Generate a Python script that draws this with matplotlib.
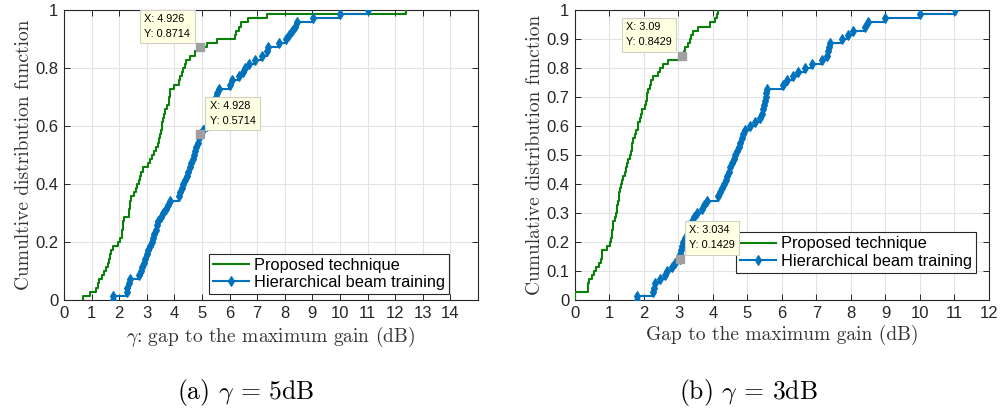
import matplotlib
matplotlib.use('Agg')
import matplotlib.pyplot as plt
import numpy as np
from matplotlib.ticker import FormatStrFormatter

plt.rcParams['mathtext.fontset'] = 'cm'
plt.rcParams['axes.unicode_minus'] = False

# sorted gaps (dB), 70 channel realisations per curve
prop_5db = [0.68, 0.94, 1.16, 1.22, 1.28, 1.38, 1.46, 1.52, 1.58, 1.64,
            1.68, 1.72, 1.76, 1.97, 2.04, 2.10, 2.12, 2.13, 2.15, 2.16,
            2.34, 2.37, 2.39, 2.41, 2.43, 2.55, 2.60, 2.66, 2.71, 2.76,
            2.80, 2.85, 3.05, 3.12, 3.18, 3.25, 3.32, 3.39, 3.45, 3.49,
            3.53, 3.55, 3.57, 3.59, 3.61, 3.67, 3.73, 3.79, 3.81, 3.83,
            3.85, 3.97, 4.15, 4.22, 4.28, 4.33, 4.38, 4.43, 4.57, 4.75,
            4.926, 5.17, 5.53, 6.19, 6.25, 6.35, 6.43, 6.67, 7.34, 12.4]
hier_5db = [1.79, 2.27, 2.29, 2.35, 2.39, 2.72, 2.78, 2.84, 2.90, 2.95,
            3.00, 3.06, 3.12, 3.18, 3.24, 3.28, 3.33, 3.37, 3.42, 3.52,
            3.60, 3.68, 3.76, 3.84, 4.16, 4.20, 4.26, 4.32, 4.38, 4.44,
            4.50, 4.56, 4.61, 4.66, 4.70, 4.75, 4.79, 4.84, 4.88, 4.928,
            5.05, 5.17, 5.22, 5.27, 5.32, 5.36, 5.39, 5.43, 5.50, 5.55,
            5.60, 6.03, 6.09, 6.33, 6.50, 6.57, 6.69, 6.93, 7.16, 7.34,
            7.40, 7.79, 8.03, 8.15, 8.27, 8.37, 8.43, 9.03, 10.0, 11.03]
prop_3db = [0.0, 0.0, 0.37, 0.39, 0.42, 0.48, 0.54, 0.60, 0.70, 0.74,
            0.77, 0.79, 0.92, 1.01, 1.04, 1.06, 1.08, 1.10, 1.11, 1.16,
            1.19, 1.21, 1.23, 1.25, 1.27, 1.29, 1.31, 1.33, 1.36, 1.40,
            1.44, 1.48, 1.51, 1.55, 1.59, 1.62, 1.64, 1.66, 1.69, 1.74,
            1.78, 1.82, 1.84, 1.88, 1.91, 1.93, 2.03, 2.06, 2.08, 2.10,
            2.13, 2.17, 2.21, 2.27, 2.42, 2.45, 2.56, 2.70, 3.09, 3.15,
            3.20, 3.29, 3.33, 3.36, 3.43, 3.57, 3.91, 4.06, 4.12, 4.15]
hier_3db = [1.79, 2.27, 2.29, 2.32, 2.47, 2.62, 2.66, 2.80, 2.90, 3.034,
            3.05, 3.07, 3.09, 3.12, 3.19, 3.28, 3.33, 3.36, 3.38, 3.45,
            3.53, 3.67, 3.75, 3.82, 4.16, 4.20, 4.25, 4.31, 4.38, 4.42,
            4.45, 4.50, 4.55, 4.60, 4.65, 4.70, 4.74, 4.79, 4.84, 4.88,
            4.93, 5.07, 5.22, 5.36, 5.42, 5.46, 5.49, 5.51, 5.53, 5.55,
            5.56, 6.04, 6.15, 6.33, 6.47, 6.67, 6.86, 7.15, 7.30, 7.34,
            7.37, 7.39, 7.73, 7.92, 8.06, 8.40, 8.50, 8.99, 10.0, 11.01]

# data tips (x, y) shown on each panel
tips_5db = [(4.926, 0.8714), (4.928, 0.5714)]
tips_3db = [(3.09, 0.8429), (3.034, 0.1429)]

green = '#0a800a'
blue = '#0072bd'
sans = 'Liberation Sans'
serif = 'cmr10'


def ecdf(v):
    v = np.sort(np.asarray(v, dtype=float))
    n = len(v)
    x = np.concatenate([[v[0]], v])
    f = np.arange(n + 1) / n
    return x, f


def datatip(ax, x, y, side):
    ax.plot(x, y, 's', color='#a0a0a0', markersize=5.5, zorder=6, clip_on=False)
    txt = 'X: %g\nY: %g' % (x, y)
    if side == 'left':
        off, ha = (-7, 6), 'right'
    else:
        off, ha = (7, 6), 'left'
    ax.annotate(txt, (x, y), xytext=off, textcoords='offset points',
                ha=ha, va='bottom', multialignment='left', fontsize=7.8, family=sans,
                linespacing=1.6, zorder=7, annotation_clip=False,
                bbox=dict(boxstyle='square,pad=0.4', fc='#ffffe1',
                          ec='#d0d0c8', lw=0.8))


def panel(ax, prop, hier, xmax, xticks, yticks, ylabel, xlabel, tips, sides, leg_anchor):
    x, f = ecdf(prop)
    ax.step(x, f, where='post', color=green, lw=1.5, label='Proposed technique', zorder=3)
    x, f = ecdf(hier)
    ax.step(x, f, where='post', color=blue, lw=1.5, marker='d', markersize=5.5,
            markeredgewidth=0.8, label='Hierarchical beam training', zorder=4)
    ax.set_xlim(0, xmax)
    ax.set_ylim(0, 1)
    ax.set_xticks(xticks)
    ax.set_yticks(yticks)
    ax.yaxis.set_major_formatter(FormatStrFormatter('%g'))
    ax.grid(True, color='#e3e3e3', lw=0.8)
    ax.set_axisbelow(True)
    ax.tick_params(direction='in', top=True, right=True, length=4, width=0.7,
                   labelsize=12, pad=4, colors='#262626')
    for lab in ax.get_xticklabels() + ax.get_yticklabels():
        lab.set_family(sans)
    for s in ax.spines.values():
        s.set_color('#262626')
        s.set_linewidth(0.8)
    ax.set_ylabel(ylabel, family=serif, fontsize=14, labelpad=2, color='#333333')
    ax.set_xlabel(xlabel, family=serif, fontsize=14, labelpad=3, color='#333333')
    for (tx, ty), sd in zip(tips, sides):
        datatip(ax, tx, ty, sd)
    leg = ax.legend(loc='lower right', bbox_to_anchor=leg_anchor, prop={'family': sans, 'size': 11.8},
                    frameon=True, fancybox=False, framealpha=1, edgecolor='#262626',
                    handlelength=2.2, handletextpad=0.3, borderpad=0.25, labelspacing=0.15,
                    borderaxespad=0)
    leg.get_frame().set_linewidth(0.8)


fig = plt.figure(figsize=(10.01, 4.08), dpi=100)
ax1 = fig.add_axes([0.0639, 0.2647, 0.4136, 0.7108])
ax2 = fig.add_axes([0.5744, 0.2647, 0.4136, 0.7108])

panel(ax1, prop_5db, hier_5db, 15, np.arange(0, 15), np.arange(0, 1.01, 0.2),
      'Cumultive distribution function', r'$\gamma$: gap to the maximum gain (dB)',
      tips_5db, ['left', 'right'], (0.93, 0.02))
panel(ax2, prop_3db, hier_3db, 12, np.arange(0, 13), np.arange(0, 1.01, 0.1),
      'Cumulative distribution function', 'Gap to the maximum gain (dB)',
      tips_3db, ['left', 'right'], (0.969, 0.093))

fig.text(0.2455, 0.022, r'(a) $\gamma$ = 5dB', family=serif, fontsize=18.5, ha='center', va='baseline')
fig.text(0.7475, 0.022, r'(b) $\gamma$ = 3dB', family=serif, fontsize=18.5, ha='center', va='baseline')

fig.savefig('out.png', dpi=100)
